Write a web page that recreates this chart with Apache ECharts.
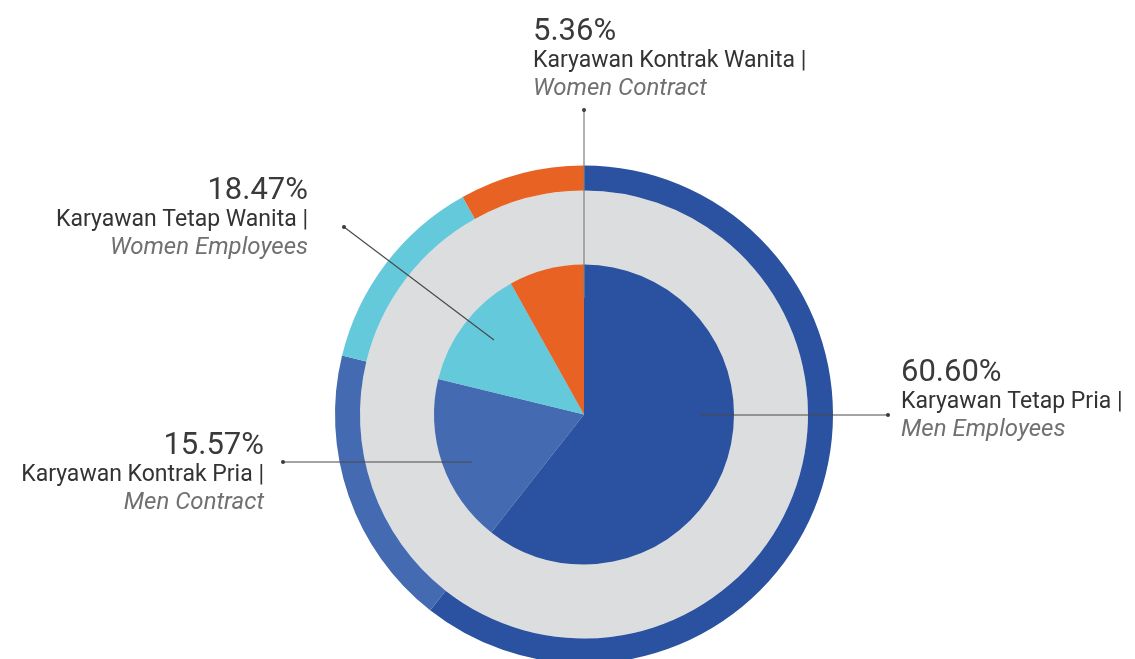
<!DOCTYPE html>
<html>
<head>
<meta charset="utf-8">
<script src="https://cdn.jsdelivr.net/npm/echarts@6/dist/echarts.min.js"></script>
<style>
  html, body { margin: 0; padding: 0; background: #fff; }
  #chart { width: 1135px; height: 659px; }
</style>
</head>
<body>
<div id="chart"></div>
<script>
// slices as drawn (share of the circle), clockwise from 12 o'clock
var names = ['Karyawan Tetap Pria', 'Karyawan Kontrak Pria', 'Karyawan Tetap Wanita', 'Karyawan Kontrak Wanita'];
var namesEn = ['Men Employees', 'Men Contract', 'Women Employees', 'Women Contract'];
var shares = [60.6, 18.2, 13.1, 8.1];
// percentages printed in the labels
var pctLabels = ['60.60%', '15.57%', '18.47%', '5.36%'];
var colors = ['#2a52a0', '#446ab2', '#64c9db', '#e86224'];

var center = [584, 414.5];
// leader line: start offset from centre, end dot, label anchor
var leaders = [
  { from: [116, 0.5], to: [888, 415], lx: 901, ly: 358, align: 'left', lineColor: '#4a4a4a' },
  { from: [-112, 47.5], to: [283, 462], lx: 264, ly: 431, align: 'right', lineColor: '#4a4a4a' },
  { from: [-90, -74.5], to: [344, 227], lx: 308, ly: 176, align: 'right', lineColor: '#4a4a4a' },
  { from: [0, -116.5], to: [584, 110], lx: 533, ly: 17, align: 'left', lineColor: '#808080' }
];

var sliceData = [];
var labelData = [];
for (var i = 0; i < shares.length; i++) {
  sliceData.push({ name: names[i], value: shares[i], itemStyle: { color: colors[i] } });
  labelData.push({
    name: names[i],
    value: shares[i],
    labelLine: { lineStyle: { color: leaders[i].lineColor } }
  });
}

var dots = [];
for (var j = 0; j < leaders.length; j++) {
  dots.push({
    type: 'circle',
    z: 100,
    shape: { cx: leaders[j].to[0], cy: leaders[j].to[1], r: 2 },
    style: { fill: '#3a3a3a' }
  });
}

var option = {
  animation: false,
  textStyle: { fontFamily: 'Roboto' },
  graphic: dots,
  series: [
    {
      // grey disc behind
      type: 'pie',
      center: center,
      radius: [0, 224],
      silent: true,
      label: { show: false },
      labelLine: { show: false },
      data: [{ value: 1, itemStyle: { color: '#dcdddf' } }]
    },
    {
      type: 'pie',
      center: center,
      radius: [224, 249],
      silent: true,
      label: { show: false },
      labelLine: { show: false },
      data: sliceData
    },
    {
      type: 'pie',
      center: center,
      radius: [0, 150],
      silent: true,
      label: { show: false },
      labelLine: { show: false },
      data: sliceData
    },
    {
      // transparent copy on top, carries the labels and leader lines
      type: 'pie',
      center: center,
      radius: [0, 150],
      silent: true,
      z: 10,
      itemStyle: { color: 'rgba(0,0,0,0)' },
      label: {
        show: true,
        position: 'outside',
        formatter: function (p) {
          return '{pct|' + pctLabels[p.dataIndex] + '}\n{name|' + names[p.dataIndex] + ' |}\n{en|' + namesEn[p.dataIndex] + '}';
        },
        rich: {
          pct: { fontFamily: 'Roboto', fontSize: 31, lineHeight: 30, color: '#3a3a3a' },
          name: { fontFamily: 'Roboto', fontSize: 23, lineHeight: 28, color: '#333333' },
          en: { fontFamily: 'Roboto', fontSize: 24, lineHeight: 28, color: '#707070', fontStyle: 'italic' }
        }
      },
      labelLine: {
        show: true,
        showAbove: true,
        smooth: false,
        lineStyle: { width: 1.2 }
      },
      labelLayout: function (params) {
        var L = leaders[params.dataIndex];
        return {
          x: L.lx,
          y: L.ly,
          align: L.align,
          verticalAlign: 'top',
          labelLinePoints: [
            [center[0] + L.from[0], center[1] + L.from[1]],
            [(center[0] + L.from[0] + L.to[0]) / 2, (center[1] + L.from[1] + L.to[1]) / 2],
            L.to
          ]
        };
      },
      data: labelData
    }
  ]
};

var myChart = echarts.init(document.getElementById('chart'));
myChart.setOption(option);
</script>
</body>
</html>
